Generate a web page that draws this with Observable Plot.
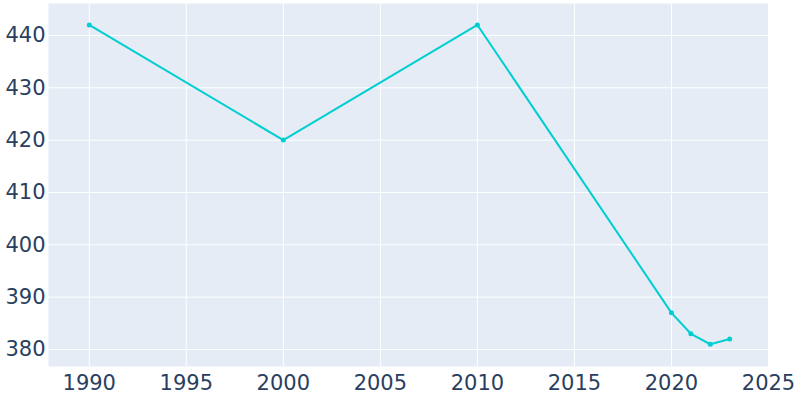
<!DOCTYPE html>
<html>
<head>
<meta charset="utf-8">
<script src="https://cdn.jsdelivr.net/npm/d3@7"></script>
<script src="https://cdn.jsdelivr.net/npm/@observablehq/plot@0.6"></script>
<style>
  html, body { margin: 0; padding: 0; background: #fff; }
  svg { display: block; }
  svg g[aria-label$="tick label"] text { font-size: 21px !important; font-family: "DejaVu Sans", sans-serif !important; }
</style>
</head>
<body>
<div id="chart"></div>
<script>
const years = [1990, 2000, 2010, 2020, 2021, 2022, 2023];
const population = [442, 420, 442, 387, 383, 381, 382];
const xTicks = [1990, 1995, 2000, 2005, 2010, 2015, 2020, 2025];
const yTicks = [380, 390, 400, 410, 420, 430, 440];

const data = years.map((y, i) => ({year: y, value: population[i]}));

const chart = Plot.plot({
  width: 800,
  height: 400,
  marginLeft: 48,
  marginRight: 32,
  marginTop: 3,
  marginBottom: 34,
  style: {fontFamily: "DejaVu Sans", fontSize: "21px", color: "#2a3f5f", background: "#fff"},
  x: {domain: [1987.9, 2025], ticks: xTicks, tickFormat: d => String(d)},
  y: {domain: [376.75, 446.1], ticks: yTicks},
  marks: [
    Plot.frame({fill: "#E5ECF6", stroke: null}),
    Plot.gridX(xTicks, {stroke: "#fff", strokeOpacity: 1, strokeWidth: 1}),
    Plot.gridY(yTicks, {stroke: "#fff", strokeOpacity: 1, strokeWidth: 1}),
    Plot.axisX(xTicks, {tickSize: 0, tickPadding: 9, label: null, fontSize: 21, fill: "#2a3f5f", tickFormat: d => String(d)}),
    Plot.axisY(yTicks, {tickSize: 0, tickPadding: 3, label: null, fontSize: 21, fill: "#2a3f5f"}),
    Plot.line(data, {x: "year", y: "value", stroke: "#00CED1", strokeWidth: 2}),
    Plot.dot(data, {x: "year", y: "value", fill: "#00CED1", r: 2.5, stroke: null})
  ]
});
document.getElementById("chart").appendChild(chart);
</script>
</body>
</html>
